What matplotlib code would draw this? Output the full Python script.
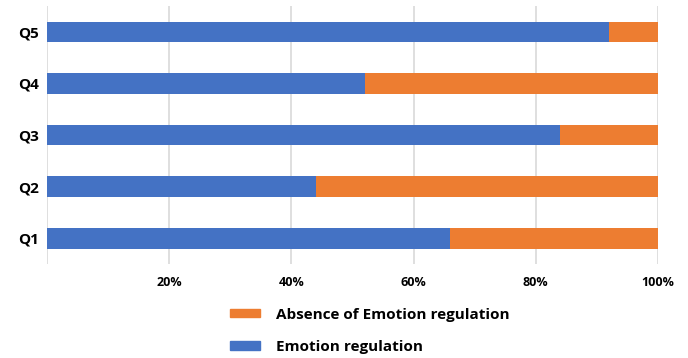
import matplotlib
matplotlib.use("Agg")
import matplotlib.pyplot as plt
from matplotlib.patches import Patch
from matplotlib.ticker import FixedLocator

categories = ["Q1", "Q2", "Q3", "Q4", "Q5"]
emotion_regulation = [66, 44, 84, 52, 92]
absence = [100 - v for v in emotion_regulation]
xticks = [0, 20, 40, 60, 80, 100]
xtick_labels = ["", "20%", "40%", "60%", "80%", "100%"]

blue = "#4472C4"
orange = "#ED7D31"

plt.rcParams['font.family'] = ['Open Sans', 'DejaVu Sans']

fig = plt.figure(figsize=(6.88, 3.58), dpi=100)
ax = fig.add_axes([0.0683, 0.2626, 0.8881, 0.7204])

y = list(range(len(categories)))
ax.barh(y, emotion_regulation, height=0.4, color=blue, zorder=3)
ax.barh(y, absence, left=emotion_regulation, height=0.4, color=orange, zorder=3)

ax.set_xlim(0, 100)
ax.set_ylim(-0.5, 4.5)
ax.xaxis.set_major_locator(FixedLocator(xticks))
ax.set_xticklabels(xtick_labels, fontsize=9, fontweight='bold')
ax.set_yticks(y)
ax.set_yticklabels(categories, fontsize=11, fontweight='bold')
ax.tick_params(axis='both', length=0)
ax.tick_params(axis='x', pad=9)
ax.tick_params(axis='y', pad=6)
ax.grid(axis='x', color='#D9D9D9', linewidth=1.2, zorder=0)
for s in ax.spines.values():
    s.set_visible(False)

handles = [Patch(color=orange, label="Absence of Emotion regulation"),
           Patch(color=blue, label="Emotion regulation")]
fig.legend(handles=handles, loc='upper left', bbox_to_anchor=(0.325, 0.158),
           frameon=False, prop={'size': 11, 'weight': 'bold'},
           handlelength=2.0, handleheight=0.45, handletextpad=1.0,
           labelspacing=1.2, borderaxespad=0)

fig.savefig("out.png", dpi=100)
